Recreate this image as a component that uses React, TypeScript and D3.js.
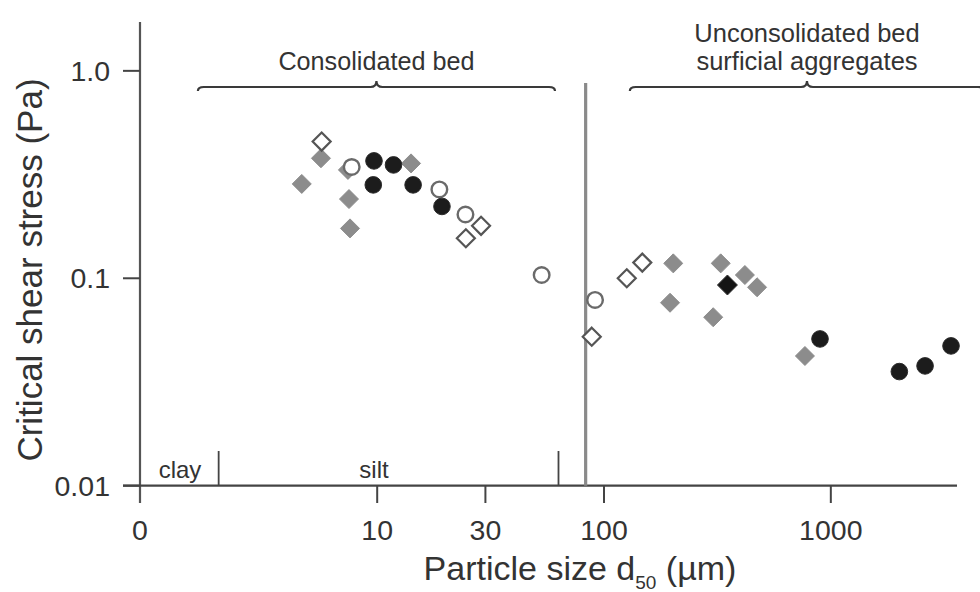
import React from "react";
import * as d3 from "d3";

// ---- Data (particle size d50 in µm, critical shear stress in Pa) ----
const grayDiamondX = [5.65, 4.65, 7.43, 7.51, 7.59, 14.1, 202, 195.5, 327, 418, 473, 303, 769];
const grayDiamondY = [0.379, 0.285, 0.333, 0.241, 0.174, 0.358, 0.118, 0.0762, 0.118, 0.1037, 0.0905, 0.0649, 0.0422];

const openDiamondX = [5.69, 28.7, 24.6, 88.3, 126, 147.5];
const openDiamondY = [0.456, 0.179, 0.156, 0.0523, 0.1, 0.119];

const openCircleX = [7.72, 18.8, 24.5, 53.1, 91.3];
const openCircleY = [0.344, 0.268, 0.203, 0.1037, 0.0786];

const blackCircleX = [9.68, 9.61, 11.8, 14.4, 19.3, 896, 2005, 2603, 3388];
const blackCircleY = [0.368, 0.282, 0.352, 0.282, 0.222, 0.051, 0.0355, 0.0378, 0.0472];

const blackDiamondX = [350];
const blackDiamondY = [0.0928];

const xTickValues = [10, 30, 100, 1000];
const xTickLabels = ["10", "30", "100", "1000"];
const yTickValues = [1.0, 0.1, 0.01];
const yTickLabels = ["1.0", "0.1", "0.01"];

const clayLimit = 2; // µm
const siltLimit = 63; // µm
const dividerX = 83; // µm, consolidated / unconsolidated divider

const bracketConsolidated = [1.62, 60.8];
const bracketUnconsolidated = [130, 4740];

const FONT = "'Liberation Sans', Arial, Helvetica, sans-serif";

export default function App() {
  const W = 980, H = 592;
  const x = d3.scaleLog().domain([0.9, 3600]).range([140, 957]);
  const y = d3.scaleLog().domain([0.01, 1.72]).range([485.7, 22]);
  const x0 = x.range()[0];
  const y0 = y.range()[0];

  const diamond = (cx: number, cy: number, h: number) =>
    `M${cx},${cy - h}L${cx + h},${cy}L${cx},${cy + h}L${cx - h},${cy}Z`;

  const bracket = (a: number, b: number, yy: number) => {
    const x1 = x(a), x2 = x(b);
    const xc = (x1 + x2) / 2;
    return `M${x1},${yy + 4}Q${x1},${yy} ${x1 + 6},${yy}L${xc - 6},${yy}Q${xc},${yy} ${xc},${yy - 6}Q${xc},${yy} ${xc + 6},${yy}L${x2 - 6},${yy}Q${x2},${yy} ${x2},${yy + 4}`;
  };

  const ink = "#3a3a3a";
  const txt = "#333";

  return (
    <div style={{ position: "fixed", left: 0, top: 0 }}>
      <svg width={W} height={H} style={{ display: "block", background: "#fff" }} fontFamily={FONT}>
        {/* axes */}
        <line x1={x0} x2={x0} y1={22} y2={503} stroke="#555" strokeWidth={2.2} />
        <line x1={123} x2={957} y1={y0} y2={y0} stroke="#444" strokeWidth={2.2} />
        {yTickValues.map((v, i) => (
          <g key={"yt" + i}>
            <line x1={123} x2={x0} y1={y(v)} y2={y(v)} stroke="#444" strokeWidth={2} />
            <text x={110} y={y(v) + 10} textAnchor="end" fontSize={28.5} fill={txt}>
              {yTickLabels[i]}
            </text>
          </g>
        ))}
        <text x={x0} y={540} textAnchor="middle" fontSize={28.5} fill={txt}>0</text>
        {xTickValues.map((v, i) => (
          <g key={"xt" + i}>
            <line x1={x(v)} x2={x(v)} y1={y0} y2={503} stroke="#444" strokeWidth={2} />
            <text x={x(v)} y={540} textAnchor="middle" fontSize={28.5} fill={txt}>
              {xTickLabels[i]}
            </text>
          </g>
        ))}

        {/* axis titles */}
        <text x={580} y={580} textAnchor="middle" fontSize={34} fill={txt}>
          Particle size d<tspan fontSize={19} dy={9}>50</tspan>
          <tspan dy={-9}> (µm)</tspan>
        </text>
        <text transform="translate(42,270) rotate(-90)" textAnchor="middle" fontSize={35} fill={txt}>
          Critical shear stress (Pa)
        </text>

        {/* clay / silt */}
        <line x1={x(clayLimit)} x2={x(clayLimit)} y1={451} y2={y0} stroke="#444" strokeWidth={1.8} />
        <line x1={x(siltLimit)} x2={x(siltLimit)} y1={451} y2={y0} stroke="#444" strokeWidth={1.8} />
        <text x={180} y={478} textAnchor="middle" fontSize={24} fill={txt}>clay</text>
        <text x={374} y={478} textAnchor="middle" fontSize={24} fill={txt}>silt</text>

        {/* divider */}
        <line x1={x(dividerX)} x2={x(dividerX)} y1={83} y2={y0} stroke="#8a8a8a" strokeWidth={3.2} />

        {/* brackets */}
        <path d={bracket(bracketConsolidated[0], bracketConsolidated[1], 87)} fill="none" stroke={ink} strokeWidth={2.2} />
        <path d={bracket(bracketUnconsolidated[0], bracketUnconsolidated[1], 87)} fill="none" stroke={ink} strokeWidth={2.2} />
        <text x={(x(bracketConsolidated[0]) + x(bracketConsolidated[1])) / 2} y={70} textAnchor="middle" fontSize={25.2} fill={txt}>
          Consolidated bed
        </text>
        <text x={807} y={42} textAnchor="middle" fontSize={25.5} fill={txt}>Unconsolidated bed</text>
        <text x={807} y={70} textAnchor="middle" fontSize={25.5} fill={txt}>surficial aggregates</text>

        {/* markers */}
        {grayDiamondX.map((v, i) => (
          <path key={"gd" + i} d={diamond(x(v), y(grayDiamondY[i]), 9.5)} fill="#8c8c8c" stroke="#8c8c8c" strokeWidth={1} />
        ))}
        {openDiamondX.map((v, i) => (
          <path key={"od" + i} d={diamond(x(v), y(openDiamondY[i]), 9)} fill="#fff" stroke="#555" strokeWidth={2.2} />
        ))}
        {openCircleX.map((v, i) => (
          <circle key={"oc" + i} cx={x(v)} cy={y(openCircleY[i])} r={7.8} fill="#fff" stroke="#6a6a6a" strokeWidth={2.4} />
        ))}
        {blackCircleX.map((v, i) => (
          <circle key={"bc" + i} cx={x(v)} cy={y(blackCircleY[i])} r={8.3} fill="#1c1c1c" stroke="#2a2a2a" strokeWidth={1} />
        ))}
        {blackDiamondX.map((v, i) => (
          <path key={"bd" + i} d={diamond(x(v), y(blackDiamondY[i]), 10)} fill="#141414" stroke="#333" strokeWidth={1} />
        ))}
      </svg>
    </div>
  );
}
